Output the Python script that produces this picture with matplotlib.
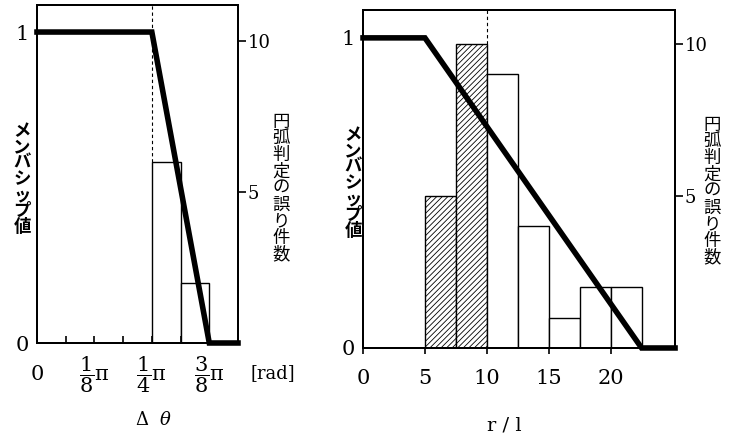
import matplotlib
matplotlib.use('Agg')
import matplotlib.pyplot as plt

plt.rcParams['font.family'] = ['DejaVu Serif', 'Noto Sans CJK JP']
plt.rcParams['mathtext.fontset'] = 'dejavuserif'
plt.rcParams['hatch.linewidth'] = 0.6

# ---------------- data ----------------
# left panel: angle difference (units of pi)
theta_knots = [0.0, 0.25, 0.375, 0.4375]
theta_membership = [1, 1, 0, 0]
theta_bin_edges = [0.25, 0.3125, 0.375]
theta_error_counts = [6, 2]
theta_tick_pos = [0.0, 0.125, 0.25, 0.375]
theta_tick_labels = ['0', r'$\dfrac{1}{8}\mathrm{\pi}$', r'$\dfrac{1}{4}\mathrm{\pi}$', r'$\dfrac{3}{8}\mathrm{\pi}$']
theta_minor_ticks = [0.0625, 0.1875, 0.3125, 0.4375]

# right panel: r / l
r_knots = [0.0, 5.0, 22.5, 25.2]
r_membership = [1, 1, 0, 0]
r_bin_edges = [5, 7.5, 10, 12.5, 15, 17.5, 20, 22.5]
r_error_counts = [5, 10, 9, 4, 1, 2, 2]
r_hatched = [True, True, False, False, False, False, False]
r_tick_pos = [0, 5, 10, 15, 20]
r_tick_labels = ['0', '5', '10', '15', '20']

mu_ticks = [0, 1]
mu_tick_labels = ['0', '1']
count_ticks = [5, 10]
count_tick_labels = ['5', '10']

ylabel_left = 'メンバシップ値'
ylabel_right = '円弧判定の誤り件数'

# ---------------- figure ----------------
fig = plt.figure(figsize=(7.38, 4.37), dpi=100)
fig.patch.set_facecolor('white')

ax1 = fig.add_axes([0.0501, 0.2151, 0.2724, 0.7735])
ax1r = ax1.twinx()
ax2 = fig.add_axes([0.4919, 0.2037, 0.4228, 0.7735])
ax2r = ax2.twinx()

num_fs = 14
cjk_fs = 12.5

def style(ax, axr, xlim, ylim, ylim_r):
    ax.set_xlim(*xlim)
    ax.set_ylim(*ylim)
    axr.set_ylim(*ylim_r)
    ax.set_zorder(axr.get_zorder() + 1)
    ax.patch.set_visible(False)
    for a in (ax, axr):
        for s in a.spines.values():
            s.set_linewidth(1.4)
            s.set_color('black')
    ax.set_yticks(mu_ticks)
    ax.set_yticklabels(mu_tick_labels, fontsize=num_fs + 1)
    ax.tick_params(axis='y', length=0, pad=6)
    axr.set_yticks(count_ticks)
    axr.set_yticklabels(count_tick_labels, fontsize=num_fs - 1)
    axr.tick_params(axis='y', direction='out', length=6, width=1.2, pad=1)

def stacked(x, y, s, bold, spacing):
    fig.text(x / 738, 1 - y / 437, '\n'.join(s), fontsize=cjk_fs,
             fontweight='bold' if bold else 'normal', ha='center', va='center',
             linespacing=spacing, family=['Noto Sans CJK JP'])

# ---- left panel ----
style(ax1, ax1r, (0, 0.4375), (0, 1.087), (0, 11.19))
for i, c in enumerate(theta_error_counts):
    ax1r.bar(theta_bin_edges[i], c, width=theta_bin_edges[i + 1] - theta_bin_edges[i],
             align='edge', facecolor='white', edgecolor='black', linewidth=1.0)
ax1r.vlines(theta_bin_edges[0], theta_error_counts[0], 11.19, colors='black',
            linestyles=(0, (3, 2.5)), linewidth=0.8)
ax1.plot(theta_knots, theta_membership, color='black', linewidth=4.0,
         solid_joinstyle='miter', clip_on=False)
ax1.set_xticks(theta_tick_pos)
ax1.set_xticklabels(theta_tick_labels, fontsize=15)
ax1.set_xticks(theta_minor_ticks, minor=True)
ax1.tick_params(axis='x', which='both', direction='in', length=5, width=1.2, pad=23)
for lab in ax1.get_xticklabels():
    lab.set_va('center')
ax1.get_xticklabels()[0].set_fontsize(num_fs + 1)
fig.text(250 / 738, 1 - 373 / 437, '[rad]', fontsize=13, ha='left', va='center')
fig.text(153 / 738, 1 - 420 / 437, r'$\Delta\ \ \theta$', fontsize=13, ha='center', va='center')
stacked(22, 179, ylabel_left, True, 0.86)
stacked(281, 188, ylabel_right, False, 0.9)

# ---- right panel ----
style(ax2, ax2r, (0, 25.2), (0, 1.09), (0, 11.12))
for i, c in enumerate(r_error_counts):
    ax2r.bar(r_bin_edges[i], c, width=r_bin_edges[i + 1] - r_bin_edges[i],
             align='edge', facecolor='white', edgecolor='black', linewidth=1.0,
             hatch='//////' if r_hatched[i] else None)
ax2r.vlines(r_bin_edges[2], r_error_counts[1], 11.12, colors='black',
            linestyles=(0, (3, 2.5)), linewidth=0.8)
ax2.plot(r_knots, r_membership, color='black', linewidth=4.0,
         solid_joinstyle='miter', clip_on=False)
ax2.set_xticks(r_tick_pos)
ax2.set_xticklabels(r_tick_labels, fontsize=num_fs + 1)
ax2.tick_params(axis='x', direction='out', length=4, width=1.2, pad=11)
fig.text(504 / 738, 1 - 425 / 437, 'r / l', fontsize=14, ha='center', va='center')
stacked(353, 183, ylabel_left, True, 0.86)
stacked(712, 191, ylabel_right, False, 0.9)

fig.savefig('out.png', dpi=100, facecolor='white')
